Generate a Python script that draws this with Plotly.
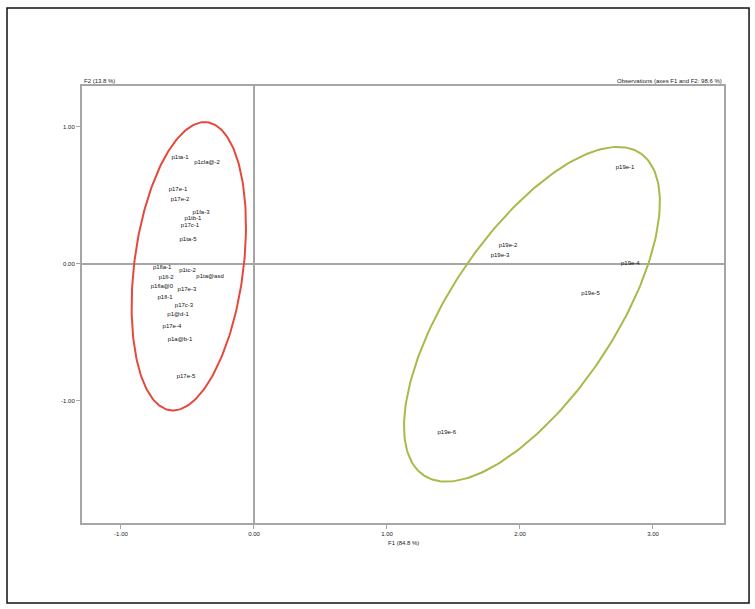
import numpy as np
import plotly.graph_objects as go

# Observation scores on the first two factors
obs_a = ["p1ta-1", "p1cla@-2", "p17e-1", "p17e-2", "p1fa-3", "p1tb-1", "p17c-1", "p1ta-5",
         "p1fla-1", "p1fl-2", "p1ta@asd", "p1tc-2", "p1fla@0", "p17e-3", "p1fl-1", "p17c-3",
         "p1@d-1", "p17e-4", "p1a@b-1", "p17e-5"]
f1_a = [-0.556, -0.353, -0.571, -0.556, -0.398, -0.459, -0.481, -0.496,
        -0.690, -0.660, -0.330, -0.500, -0.692, -0.504, -0.669, -0.526,
        -0.571, -0.617, -0.556, -0.511]
f2_a = [0.777, 0.734, 0.544, 0.471, 0.369, 0.332, 0.281, 0.172,
        -0.030, -0.100, -0.095, -0.050, -0.164, -0.186, -0.245, -0.303,
        -0.369, -0.456, -0.551, -0.828]

obs_b = ["p19e-1", "p19e-2", "p19e-3", "p19e-4", "p19e-5", "p19e-6"]
f1_b = [2.79, 1.91, 1.85, 2.83, 2.53, 1.45]
f2_b = [0.70, 0.135, 0.062, 0.00, -0.22, -1.23]

# Group ellipses: centre, semi-axes and orientation (degrees)
ell_centre = [(-0.49, -0.02), (2.09, -0.37)]
ell_axes = [(1.06, 0.41), (1.43, 0.61)]
ell_angle = [82.4, 54.9]
ell_colour = ["#e5493c", "#a9b94a"]

x_ticks = [-1, 0, 1, 2, 3]
x_ticktext = ["-1.00", "0.00", "1.00", "2.00", "3.00"]
y_ticks = [1, 0, -1]
y_ticktext = ["1.00", "0.00", "-1.00"]

fig = go.Figure()

t = np.linspace(0, 2 * np.pi, 240)
for (cx, cy), (a, b), ang, col in zip(ell_centre, ell_axes, ell_angle, ell_colour):
    phi = np.radians(ang)
    ex = cx + a * np.cos(t) * np.cos(phi) - b * np.sin(t) * np.sin(phi)
    ey = cy + a * np.cos(t) * np.sin(phi) + b * np.sin(t) * np.cos(phi)
    fig.add_trace(go.Scatter(x=ex, y=ey, mode="lines",
                             line=dict(color=col, width=2), hoverinfo="skip"))

label_font = dict(family="Liberation Sans, Arial, sans-serif", size=6, color="#111111")
for names, xs, ys in [(obs_a, f1_a, f2_a), (obs_b, f1_b, f2_b)]:
    fig.add_trace(go.Scatter(x=xs, y=ys, mode="text", text=names,
                             textposition="middle center", textfont=label_font))

axis_common = dict(showline=True, mirror=True, linecolor="#a6a6a6", linewidth=2,
                   showgrid=False, zeroline=True, zerolinecolor="#a6a6a6",
                   zerolinewidth=2, ticks="outside", ticklen=4, tickwidth=1,
                   tickcolor="#a6a6a6",
                   tickfont=dict(family="Liberation Sans, Arial, sans-serif",
                                 size=6, color="#222222"))

fig.update_layout(
    width=755, height=609,
    margin=dict(l=82, r=31, t=86, b=86),
    paper_bgcolor="white", plot_bgcolor="white",
    showlegend=False,
    xaxis=dict(range=[-1.293, 3.534], tickvals=x_ticks, ticktext=x_ticktext,
               **axis_common),
    yaxis=dict(range=[-1.894, 1.296], tickvals=y_ticks, ticktext=y_ticktext,
               **axis_common),
    annotations=[
        dict(text="F2 (13.8 %)", x=0, y=1, xref="paper", yref="paper",
             xanchor="left", yanchor="bottom", showarrow=False,
             font=dict(family="Liberation Sans, Arial, sans-serif", size=6, color="#222222")),
        dict(text="Observations (axes F1 and F2: 98.6 %)", x=1, y=1, xref="paper",
             yref="paper", xanchor="right", yanchor="bottom", showarrow=False,
             font=dict(family="Liberation Sans, Arial, sans-serif", size=6, color="#222222")),
        dict(text="F1 (84.8 %)", x=0.5, y=-0.035, xref="paper", yref="paper",
             xanchor="center", yanchor="top", showarrow=False,
             font=dict(family="Liberation Sans, Arial, sans-serif", size=6, color="#222222")),
    ],
    shapes=[
        dict(type="rect", xref="paper", yref="paper",
             x0=-0.1168, x1=1.039, y0=-0.183, y1=1.1785,
             line=dict(color="#111111", width=1.5), fillcolor="rgba(0,0,0,0)"),
    ],
)

fig.write_html("out.html")
